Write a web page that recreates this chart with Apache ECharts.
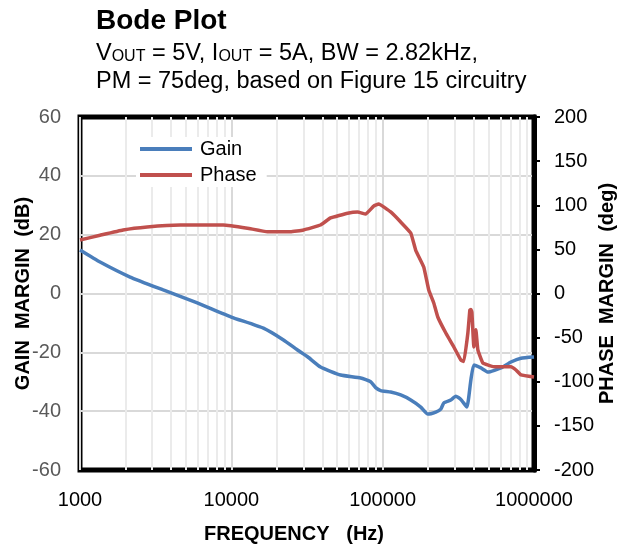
<!DOCTYPE html>
<html>
<head>
<meta charset="utf-8">
<script src="https://cdn.jsdelivr.net/npm/echarts@6/dist/echarts.min.js"></script>
<style>
  html, body { margin: 0; padding: 0; background: #fff; }
  #chart { width: 617px; height: 544px; }
</style>
</head>
<body>
<div id="chart"></div>
<script>
// values
const gainFreq = [1000, 1357, 2143, 3546, 5955, 10000, 16290, 22100, 27360, 31900, 38850,
  52720, 71530, 83260, 89870, 97000, 112990, 131600, 153300, 178500, 198600, 224400,
  242200, 253500, 282000, 304400, 328600, 360100, 382700, 400500, 445700, 496000,
  604600, 704200, 820200, 1000000];
const gainDb = [14.8, 10.7, 5.6, 1.2, -3.2, -8, -11.8, -15.8, -19.2, -21.5, -25,
  -27.7, -28.7, -30, -32, -33, -33.5, -34.5, -36.2, -38.6, -41, -40.3,
  -39.3, -37.2, -36.2, -34.9, -36, -38.6, -29.4, -24.3, -25.3, -26.7,
  -25.3, -23.3, -22, -21.6];

const phaseFreq = [1000, 1357, 1926, 2778, 4596, 8851, 12764, 17314, 24590, 29990, 38853,
  45250, 58650, 68310, 77180, 87170, 94080, 112990, 131600, 153300, 165400, 186800,
  201600, 217600, 231300, 261400, 295300, 328600, 343900, 365600, 376900, 382700,
  388600, 400500, 412900, 425700, 459500, 543400, 704200, 760000, 820200, 1000000];
const phaseDeg = [60.6, 66, 72, 75.4, 77.6, 77.6, 74, 70, 70, 72, 77.6,
  85.6, 91, 92.4, 90, 99, 101.4, 92.4, 81, 68.5, 49, 30,
  4, -10.7, -26.6, -44.8, -60.6, -75.3, -77, -44.8, -18.7, -18,
  -21, -60.6, -41, -64, -78.7, -83, -83, -86.7, -92.3, -94.6];

const decades = [1000, 10000, 100000];
const minorSteps = [2, 3, 4, 5, 6, 7, 8, 9];

const FONT = "'Liberation Sans', Arial, sans-serif";

let minorLines = [];
decades.forEach(function (d) {
  minorSteps.forEach(function (k) {
    minorLines.push({ xAxis: d * k });
  });
});

let chart = echarts.init(document.getElementById('chart'));

chart.setOption({
  animation: false,
  textStyle: { fontFamily: FONT },
  title: [
    {
      text: 'Bode Plot',
      left: 91,
      top: 2,
      textStyle: { fontSize: 28, fontWeight: 'bold', color: '#000', fontFamily: FONT }
    },
    {
      text: 'V{s|OUT} = 5V, I{s|OUT} = 5A, BW = 2.82kHz,\nPM = 75deg, based on Figure 15 circuitry',
      left: 91,
      top: 35,
      textStyle: {
        fontSize: 23.5, fontWeight: 'normal', color: '#000', lineHeight: 28, fontFamily: FONT,
        rich: {
          s: { fontSize: 16, color: '#000', padding: [5, 0, 0, 0], fontFamily: FONT }
        }
      }
    }
  ],
  legend: {
    data: ['Gain', 'Phase'],
    orient: 'vertical',
    left: 136,
    top: 137,
    z: 10,
    icon: 'rect',
    itemWidth: 52,
    itemHeight: 4,
    itemGap: 6,
    padding: [2, 10, 2, 4],
    backgroundColor: '#fff',
    textStyle: { fontSize: 20, color: '#000', fontFamily: FONT, padding: [0, 0, 0, 3] }
  },
  grid: {
    left: 80,
    right: 83,
    top: 117,
    bottom: 74,
    outerBoundsMode: 'none',
    show: true,
    borderColor: '#000',
    borderWidth: 5,
    backgroundColor: '#fff'
  },
  xAxis: {
    type: 'log',
    logBase: 10,
    min: 1000,
    max: 1000000,
    name: 'FREQUENCY   (Hz)',
    nameLocation: 'middle',
    nameGap: 54,
    nameMoveOverlap: false,
    nameTextStyle: { fontSize: 20, fontWeight: 'bold', color: '#000', padding: [0, 26, 0, 0] },
    axisLine: { show: false },
    axisTick: { show: false },
    axisLabel: {
      fontSize: 20,
      color: '#000',
      margin: 20,
      formatter: function (v) { return String(Math.round(v)); }
    },
    splitLine: { show: true, showMinLine: false, showMaxLine: false, lineStyle: { color: '#d9d9d9', width: 2 } }
  },
  yAxis: [
    {
      type: 'value',
      min: -60,
      max: 60,
      interval: 20,
      name: 'GAIN  MARGIN  (dB)',
      nameLocation: 'middle',
      nameGap: 47,
      nameMoveOverlap: false,
      nameTextStyle: { fontSize: 20, fontWeight: 'bold', color: '#000' },
      axisLine: { show: false },
      axisTick: { show: false },
      axisLabel: { fontSize: 20, color: '#595959', margin: 19 },
      splitLine: { show: true, showMinLine: false, showMaxLine: false, lineStyle: { color: '#d9d9d9', width: 2 } }
    },
    {
      type: 'value',
      min: -200,
      max: 200,
      interval: 50,
      position: 'right',
      name: 'PHASE  MARGIN  (deg)',
      nameLocation: 'middle',
      nameGap: 63,
      nameMoveOverlap: false,
      nameTextStyle: { fontSize: 20, fontWeight: 'bold', color: '#000' },
      axisLine: { show: true, lineStyle: { color: '#000', width: 5 } },
      axisTick: { show: true, length: 6, lineStyle: { color: '#000', width: 2 } },
      axisLabel: { fontSize: 20, color: '#000', margin: 20 },
      splitLine: { show: false }
    }
  ],
  series: [
    {
      name: 'minor',
      type: 'line',
      data: [],
      z: 1,
      silent: true,
      markLine: {
        silent: true,
        z: 1,
        symbol: ['none', 'none'],
        label: { show: false },
        lineStyle: { color: '#ebebeb', width: 2, type: 'solid' },
        data: minorLines
      }
    },
    {
      name: 'Gain',
      type: 'line',
      yAxisIndex: 0,
      z: 3,
      showSymbol: false,
      symbol: 'none',
      smooth: 0.15,
      lineStyle: { color: '#4a7ebb', width: 3.5 },
      itemStyle: { color: '#4a7ebb' },
      data: gainFreq.map(function (f, i) { return [f, gainDb[i]]; })
    },
    {
      name: 'Phase',
      type: 'line',
      yAxisIndex: 1,
      z: 3,
      showSymbol: false,
      symbol: 'none',
      smooth: 0.1,
      lineStyle: { color: '#c0504d', width: 3.5 },
      itemStyle: { color: '#c0504d' },
      data: phaseFreq.map(function (f, i) { return [f, phaseDeg[i]]; })
    }
  ]
});
</script>
</body>
</html>
